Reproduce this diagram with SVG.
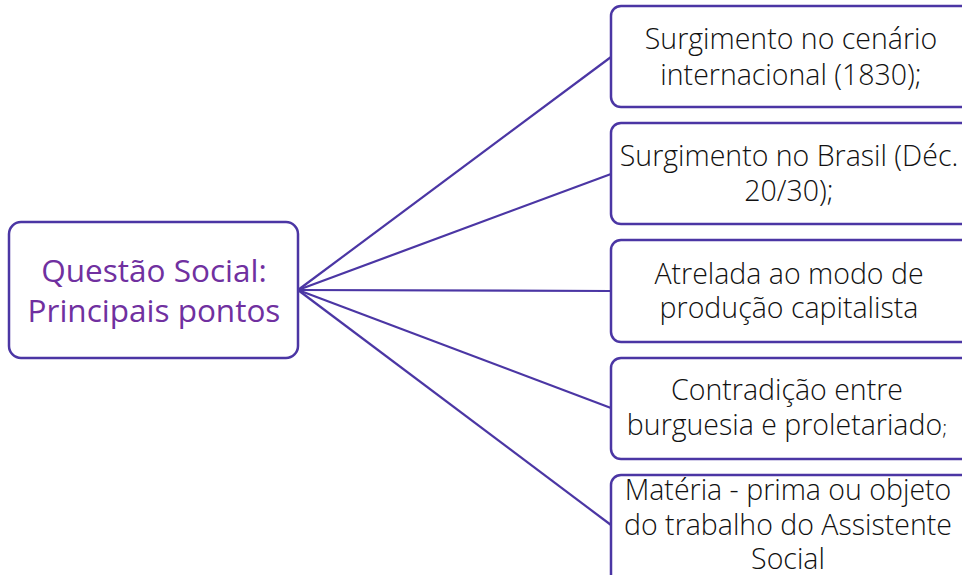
<svg xmlns="http://www.w3.org/2000/svg" width="962" height="575" viewBox="0 0 962 575">
<style>
.box{fill:#fff;stroke:#4B36A4;stroke-width:2.5}
.ln{stroke:#4B36A4;stroke-width:2.2;fill:none}
.t{font-family:"Open Sans","Noto Sans",sans-serif;font-size:28.5px;font-weight:300;fill:#111;text-anchor:middle}
.m{font-family:"Open Sans","Noto Sans",sans-serif;font-size:31.5px;fill:#7030A0;text-anchor:middle}
</style>
<rect width="962" height="575" fill="#fff"/>
<g id="connectors">
<line class="ln" x1="298" y1="290" x2="611" y2="57"/>
<line class="ln" x1="298" y1="290" x2="611" y2="174"/>
<line class="ln" x1="298" y1="290" x2="611" y2="291"/>
<line class="ln" x1="298" y1="290" x2="611" y2="408"/>
<line class="ln" x1="298" y1="290" x2="611" y2="525"/>
</g>
<g id="main">
<rect class="box" x="9" y="222" width="289" height="136" rx="12"/>
<text class="m" x="154" y="282">Questão Social:</text>
<text class="m" x="154" y="322">Principais pontos</text>
</g>
<g id="n1">
<rect class="box" x="611" y="6" width="370" height="101" rx="10"/>
<text class="t" x="791" y="49">Surgimento no cenário</text>
<text class="t" x="791" y="85">internacional (1830);</text>
</g>
<g id="n2">
<rect class="box" x="611" y="123" width="370" height="101" rx="10"/>
<text class="t" x="789" y="166">Surgimento no Brasil (Déc.</text>
<text class="t" x="789" y="201">20/30);</text>
</g>
<g id="n3">
<rect class="box" x="611" y="240" width="370" height="102" rx="10"/>
<text class="t" x="789" y="284">Atrelada ao modo de</text>
<text class="t" x="789" y="318">produção capitalista</text>
</g>
<g id="n4">
<rect class="box" x="611" y="358" width="370" height="101" rx="10"/>
<text class="t" x="787" y="400">Contradição entre</text>
<text class="t" x="787" y="435">burguesia e proletariado<tspan font-size="21">;</tspan></text>
</g>
<g id="n5">
<rect class="box" x="611" y="475" width="370" height="120" rx="10"/>
<text class="t" x="788" y="500">Matéria - prima ou objeto</text>
<text class="t" x="788" y="535">do trabalho do Assistente</text>
<text class="t" x="788" y="569">Social</text>
</g>
</svg>
